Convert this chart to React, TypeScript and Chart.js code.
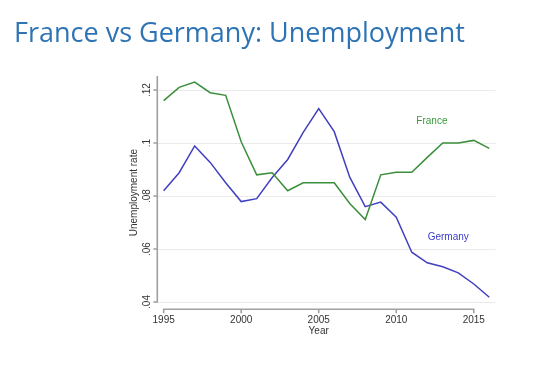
import React, { useEffect, useRef } from "react";
import { Chart, registerables } from "chart.js";

Chart.register(...registerables);

const years = [1995, 1996, 1997, 1998, 1999, 2000, 2001, 2002, 2003, 2004, 2005, 2006, 2007, 2008, 2009, 2010, 2011, 2012, 2013, 2014, 2015, 2016];
const france = [0.116, 0.121, 0.123, 0.119, 0.118, 0.1005, 0.088, 0.0888, 0.082, 0.085, 0.085, 0.085, 0.0772, 0.0711, 0.088, 0.089, 0.089, 0.0946, 0.1, 0.1, 0.101, 0.098];
const germany = [0.082, 0.0888, 0.0989, 0.0927, 0.085, 0.0779, 0.079, 0.087, 0.0938, 0.104, 0.113, 0.1043, 0.0871, 0.076, 0.0777, 0.072, 0.0588, 0.0548, 0.0533, 0.051, 0.0468, 0.0418];
const yTicks = [0.04, 0.06, 0.08, 0.1, 0.12];
const xTicks = [1995, 2000, 2005, 2010, 2015];
const titleText = "France vs Germany: Unemployment";
const yTitle = "Unemployment rate";
const xTitle = "Year";
const seriesLabels = [
  { text: "France", x: 2012.3, y: 0.1084, color: "#3a9a3a" },
  { text: "Germany", x: 2013.35, y: 0.0643, color: "#3c3cc8" },
];

const FONT = '"Liberation Sans", Arial, sans-serif';

const decor = {
  id: "decor",
  afterDraw(chart: any) {
    const { ctx, chartArea, scales } = chart;
    const xs = scales.x;
    const ys = scales.y;
    ctx.save();
    // title
    ctx.font = '27px "Open Sans", sans-serif';
    ctx.fillStyle = "#2e74b5";
    ctx.textAlign = "left";
    ctx.textBaseline = "alphabetic";
    ctx.fillText(titleText, 14, 41.5);

    // axes
    ctx.strokeStyle = "#a0a0a0";
    ctx.lineWidth = 1.6;
    ctx.beginPath();
    const lx = chartArea.left;
    ctx.moveTo(lx, chartArea.top);
    ctx.lineTo(lx, ys.getPixelForValue(yTicks[0]) + 0.8);
    for (const t of yTicks) {
      const py = ys.getPixelForValue(t);
      ctx.moveTo(lx - 4, py);
      ctx.lineTo(lx, py);
    }
    const by = chartArea.bottom;
    ctx.moveTo(xs.getPixelForValue(xTicks[0]) - 0.8, by);
    ctx.lineTo(xs.getPixelForValue(xTicks[xTicks.length - 1]) + 0.8, by);
    for (const t of xTicks) {
      const px = xs.getPixelForValue(t);
      ctx.moveTo(px, by);
      ctx.lineTo(px, by + 4);
    }
    ctx.stroke();

    // x title
    ctx.font = "10px " + FONT;
    ctx.fillStyle = "#333333";
    ctx.textAlign = "center";
    ctx.textBaseline = "middle";
    const midX = (xs.getPixelForValue(xTicks[0]) + xs.getPixelForValue(xTicks[xTicks.length - 1])) / 2;
    ctx.fillText(xTitle, midX, by + 21.5);

    // series labels
    for (const l of seriesLabels) {
      ctx.fillStyle = l.color;
      ctx.fillText(l.text, xs.getPixelForValue(l.x), ys.getPixelForValue(l.y));
    }
    ctx.restore();
  },
};

export default function App() {
  const ref = useRef<HTMLCanvasElement | null>(null);
  useEffect(() => {
    document.body.style.margin = "0";
    const canvas = ref.current!;
    const chart = new Chart(canvas, {
      type: "line",
      data: {
        datasets: [
          {
            label: "France",
            data: years.map((y, i) => ({ x: y, y: france[i] })),
            borderColor: "#3b8e3b",
            borderWidth: 1.5,
            pointRadius: 0,
            tension: 0,
            fill: false,
          },
          {
            label: "Germany",
            data: years.map((y, i) => ({ x: y, y: germany[i] })),
            borderColor: "#4040c0",
            borderWidth: 1.5,
            pointRadius: 0,
            tension: 0,
            fill: false,
          },
        ],
      },
      options: {
        responsive: false,
        animation: false,
        devicePixelRatio: 1,
        layout: { padding: { left: 120, right: 54.5, top: 76, bottom: 30.2 } },
        plugins: { legend: { display: false }, tooltip: { enabled: false }, title: { display: false } },
        scales: {
          x: {
            type: "linear",
            min: 1994.59,
            max: 2016.4,
            grid: { display: false, drawTicks: false },
            border: { display: false },
            afterBuildTicks: (s: any) => {
              s.ticks = xTicks.map((v) => ({ value: v }));
            },
            afterFit: (s: any) => {
              s.height = 27.5;
            },
            ticks: {
              padding: 5,
              autoSkip: false,
              maxRotation: 0,
              color: "#333333",
              font: { family: FONT, size: 10 },
              callback: (v: any) => String(v),
            },
          },
          y: {
            type: "linear",
            min: 0.03725,
            max: 0.1253,
            grid: { color: "#ebebeb", lineWidth: 1, drawTicks: false },
            border: { display: false },
            afterBuildTicks: (s: any) => {
              s.ticks = yTicks.map((v) => ({ value: v }));
            },
            afterFit: (s: any) => {
              s.width = 37.3;
            },
            title: {
              display: true,
              text: yTitle,
              color: "#333333",
              font: { family: FONT, size: 10 },
              padding: { top: 8.7, bottom: 0 },
            },
            ticks: {
              padding: 3,
              minRotation: 90,
              maxRotation: 90,
              crossAlign: "center",
              color: "#333333",
              font: { family: FONT, size: 10 },
              callback: (v: any) => String(Math.round(v * 100) / 100).replace(/^0/, ""),
            },
          },
        },
      },
      plugins: [decor],
    });
    return () => chart.destroy();
  }, []);
  return (
    <div style={{ width: 550, height: 367, position: "relative", background: "#ffffff" }}>
      <canvas ref={ref} width={550} height={367} style={{ display: "block" }} />
    </div>
  );
}
